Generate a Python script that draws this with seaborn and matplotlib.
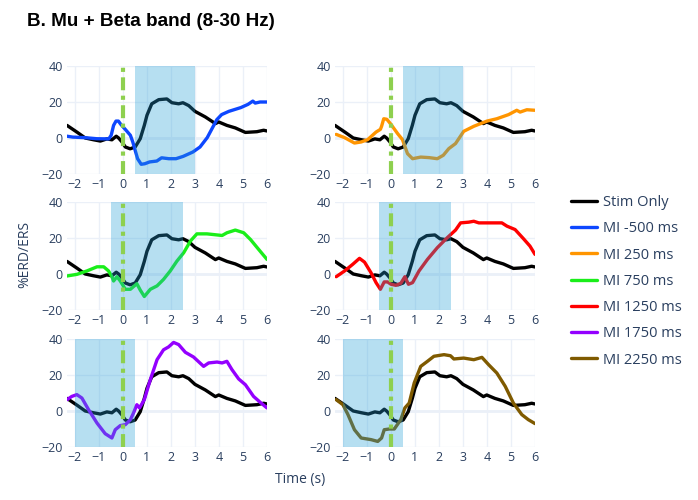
import matplotlib
matplotlib.use('Agg')
import matplotlib.pyplot as plt
import seaborn as sns

# Stim-only reference curve (same in every panel)
stim_t = [-2.33, -1.92, -1.57, -1.22, -0.94, -0.67, -0.46, -0.28, -0.18, -0.04, 0.1, 0.3,
          0.51, 0.72, 0.89, 1.0, 1.2, 1.49, 1.83, 2.04, 2.32, 2.5, 2.74, 3.0, 3.43, 3.85,
          3.99, 4.33, 4.68, 5.1, 5.58, 5.86, 6.0]
stim_v = [7, 3.3, 0, -1, -1.7, -0.5, -1, 1, 0, -2.2, -5, -6, -5, -0.4, 7, 12.6, 19, 21.3,
          21.7, 19.6, 19, 19.6, 18, 14.8, 11.7, 8, 8.9, 7, 5.6, 3.1, 3.5, 4.3, 3.9]

m500_t = [-2.33, -2.09, -1.59, -1.09, -0.59, -0.49, -0.39, -0.29, -0.19, -0.09, 0.11, 0.31,
          0.41, 0.51, 0.61, 0.76, 0.91, 1.11, 1.41, 1.61, 1.91, 2.21, 2.51, 2.91, 3.21,
          3.51, 3.71, 3.91, 4.11, 4.41, 4.91, 5.21, 5.41, 5.51, 5.71, 6.0]
m500_v = [1, 0.5, 0.2, -0.4, -0.5, 1.5, 7, 9.4, 9.4, 7.6, 4.6, 1.5, -2.2, -6.9, -11.5,
          -14.6, -14.3, -13.3, -12.8, -11, -11.5, -11.5, -10.2, -7.8, -5, 0.2, 5.2, 10.2,
          13, 14.8, 16.9, 18.7, 20.5, 19.4, 20, 20]

m250_t = [-2.28, -1.93, -1.52, -1.24, -0.97, -0.62, -0.44, -0.39, -0.3, -0.17, 0, 0.28,
          0.48, 0.69, 0.9, 1.24, 1.59, 1.93, 2.18, 2.41, 2.69, 3.03, 3.45, 4.0, 4.41,
          4.9, 5.24, 5.38, 5.66, 6.0]
m250_v = [2, 0.2, -2.8, -2.2, -0.9, 3.3, 4.8, 6.5, 10.7, 10.4, 7.6, 2.4, -0.9, -8.7,
          -11.5, -10.6, -10.9, -11.5, -9.6, -5.9, -3.1, 3.7, 6.5, 9.4, 10.7, 13, 15.4,
          14.4, 15.7, 15.4]

m750_t = [-2.33, -1.92, -1.5, -1.08, -0.8, -0.6, -0.46, -0.39, -0.25, -0.11, 0.1, 0.31,
          0.44, 0.58, 0.72, 0.89, 1.14, 1.42, 1.69, 1.97, 2.25, 2.53, 2.81, 3.08, 3.5,
          4.13, 4.33, 4.68, 5.03, 5.31, 5.65, 6.0]
m750_v = [-1.1, -0.2, 1.7, 4, 4, 1.7, -1.5, -3.9, -1.5, -3.9, -8.5, -8.5, -7, -5.4,
          -8.9, -12.5, -8.5, -6.6, -3, 1.7, 7.2, 11.8, 18.3, 22.3, 22.3, 21.4, 22.9,
          24.4, 22.9, 19.2, 13.7, 8.1]

m1250_t = [-2.28, -1.93, -1.59, -1.31, -1.1, -0.83, -0.62, -0.44, -0.28, -0.14, 0, 0.21,
           0.41, 0.58, 0.73, 0.9, 1.17, 1.52, 1.93, 2.34, 2.69, 2.9, 3.24, 3.45, 3.66,
           4.14, 4.62, 4.83, 5.17, 5.52, 5.79, 6.0]
m1250_v = [-1.5, 1.7, 5.4, 8.7, 6.6, 0.7, -4.8, -8.5, -4.4, -4.4, -5.7, -6.3, -5.2, -1.5,
           -5.7, -4.8, 1.7, 8.1, 14.6, 20.1, 24.4, 28.4, 28.8, 29.3, 28.4, 28.4, 28.4,
           26.6, 24.7, 19.6, 15.5, 10.9]

m1750_t = [-2.33, -2.13, -1.92, -1.71, -1.43, -1.08, -0.74, -0.46, -0.32, -0.11, 0.1, 0.31,
           0.44, 0.58, 0.69, 0.89, 1.14, 1.42, 1.69, 1.9, 2.11, 2.32, 2.6, 2.94, 3.36,
           3.57, 3.92, 4.13, 4.33, 4.54, 4.82, 5.1, 5.44, 5.72, 6.0]
m1750_v = [6.3, 8.1, 9.1, 7.2, 0.7, -6.7, -12.6, -15, -10.4, -8.1, -7.6, -4.8, -1.1, 3.5,
           1.7, 6.3, 17.4, 28.5, 34, 35.6, 38.1, 36.9, 32.6, 30, 24.8, 26.7, 27.2, 26.7,
           27.6, 23, 17.8, 14.6, 8.1, 4.8, 1.7]

m2250_t = [-2.28, -2.0, -1.79, -1.52, -1.24, -0.83, -0.55, -0.39, -0.28, -0.07, 0.14, 0.41,
           0.58, 0.76, 0.97, 1.24, 1.52, 1.79, 2.21, 2.48, 2.62, 3.03, 3.45, 3.79, 4.07,
           4.41, 4.76, 5.1, 5.45, 5.72, 6.0]
m2250_v = [6.3, 3.5, -2, -10.4, -15, -15.9, -16.9, -15, -10.4, -10, -10, -4.8, 1.7, 4.4,
           15.6, 24.8, 27.6, 30.4, 31.3, 30.7, 28.9, 29.4, 28.5, 29.8, 25.7, 21.1, 13.7,
           4.4, -2, -4.8, -7]

labels = ['MI -500 ms', 'MI 250 ms', 'MI 750 ms', 'MI 1250 ms', 'MI 1750 ms', 'MI 2250 ms']
colors = ['#0d47ff', '#ff9500', '#1aee1a', '#ff0000', '#9400ff', '#7f5a00']
windows = [(0.5, 3.0), (0.5, 3.0), (-0.5, 2.5), (-0.5, 2.5), (-2.0, 0.5), (-2.0, 0.5)]
mi_t = [m500_t, m250_t, m750_t, m1250_t, m1750_t, m2250_t]
mi_v = [m500_v, m250_v, m750_v, m1250_v, m1750_v, m2250_v]

sns.set_theme(style='whitegrid')
plt.rcParams['font.family'] = ['Open Sans', 'DejaVu Sans']
txt = '#2a3f5f'

fig = plt.figure(figsize=(6.98, 5.0), dpi=100)
lefts = [67, 335]
tops = [66, 202, 339]
for i in range(6):
    r, c = divmod(i, 2)
    ax = fig.add_axes([lefts[c] / 698, 1 - (tops[r] + 108) / 500, 200 / 698, 108 / 500])
    sns.lineplot(x=stim_t, y=stim_v, ax=ax, color='black', lw=2.4, sort=False,
                 estimator=None, zorder=3)
    sns.lineplot(x=mi_t[i], y=mi_v[i], ax=ax, color=colors[i], lw=2.4, sort=False,
                 estimator=None, zorder=4)
    # shaded window sits on top of the curves, like the original
    ax.axvspan(windows[i][0], windows[i][1], color='#249ed7', alpha=0.33, lw=0, zorder=5)
    ax.axvline(0, color='#8ed04f', lw=3, ls=(0, (3.1, 1.3, 1, 1.3)), zorder=6)
    ax.set_xlim(-2.33, 6)
    ax.set_ylim(-20, 40)
    ax.set_xticks(range(-2, 7))
    ax.set_yticks([-20, 0, 20, 40])
    ax.set_yticklabels(['\u221220', '0', '20', '40'])
    ax.set_xticklabels(['\u22122', '\u22121', '0', '1', '2', '3', '4', '5', '6'])
    ax.grid(True, color='#ebf0f8', lw=1)
    ax.axhline(0, color='#ebf0f8', lw=2, zorder=1)
    for s in ax.spines.values():
        s.set_visible(False)
    ax.tick_params(length=0, labelsize=9, colors=txt, pad=3)
    ax.set_xlabel('')
    ax.set_ylabel('')

# legend on the right
handles = [plt.Line2D([], [], color='black', lw=2.4)]
handles += [plt.Line2D([], [], color=c, lw=2.4) for c in colors]
fig.legend(handles, ['Stim Only'] + labels, loc='upper left',
           bbox_to_anchor=(558 / 698, 1 - 182 / 500), frameon=False, fontsize=10.5,
           labelcolor=txt, handlelength=1.75, labelspacing=0.77, handletextpad=0.45)

fig.text(27 / 698, 1 - 22 / 500, 'B. Mu + Beta band (8-30 Hz)', fontsize=13.6, fontweight='bold',
         family=['Liberation Sans', 'DejaVu Sans'], color='black', va='center', ha='left')
fig.text(300 / 698, 1 - 480 / 500, 'Time (s)', fontsize=10, color=txt, ha='center', va='center')
fig.text(25 / 698, 1 - 255 / 500, '%ERD/ERS', fontsize=10, color=txt, ha='center', va='center',
         rotation=90)

fig.savefig('out.png', dpi=100)
